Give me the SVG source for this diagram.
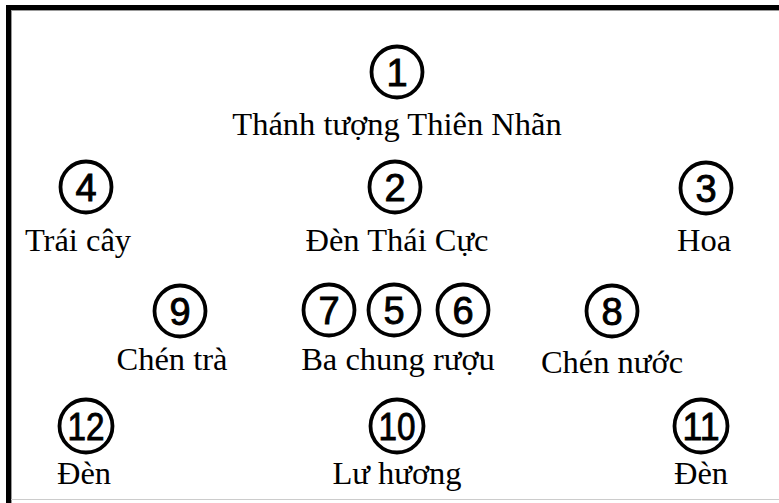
<svg xmlns="http://www.w3.org/2000/svg" width="779" height="503" viewBox="0 0 779 503">
<style>
.c{fill:none;stroke:#000;stroke-width:3.8}
.d{font-family:"Liberation Sans",Arial,sans-serif;font-size:38px;text-anchor:middle;fill:#000;stroke:#000;stroke-width:0.9}
.lbl{font-family:"Liberation Serif","Times New Roman",serif;font-size:32.5px;text-anchor:middle;fill:#000}
</style>
<rect x="0" y="0" width="779" height="503" fill="#fff"/>
<g id="frame">
<rect x="6" y="5" width="773" height="5" fill="#000"/>
<rect x="6" y="5" width="5" height="498" fill="#000"/>
<rect x="11" y="10" width="768" height="1" fill="#999"/>
<rect x="11" y="10" width="1" height="493" fill="#999"/>
<rect x="11" y="499" width="768" height="1" fill="#ccc"/>
</g>
<g id="n1"><circle class="c" cx="397" cy="72" r="25.5"/><text class="d" x="397" y="86">1</text><text class="lbl" x="397" y="135">Thánh tượng Thiên Nhãn</text></g>
<g id="n4"><circle class="c" cx="86" cy="187" r="25.5"/><text class="d" x="86" y="201">4</text><text class="lbl" x="78" y="251">Trái cây</text></g>
<g id="n2"><circle class="c" cx="395" cy="187" r="25.5"/><text class="d" x="395" y="201">2</text><text class="lbl" x="397" y="251">Đèn Thái Cực</text></g>
<g id="n3"><circle class="c" cx="706" cy="188" r="25.5"/><text class="d" x="706" y="202">3</text><text class="lbl" x="704" y="251">Hoa</text></g>
<g id="n9"><circle class="c" cx="180" cy="311" r="25.5"/><text class="d" x="180" y="325">9</text><text class="lbl" x="172" y="370">Chén trà</text></g>
<g id="n7"><circle class="c" cx="329" cy="310" r="25.5"/><text class="d" x="329" y="324">7</text></g>
<g id="n5"><circle class="c" cx="394" cy="310" r="25.5"/><text class="d" x="394" y="324">5</text></g>
<g id="n6"><circle class="c" cx="463" cy="310" r="25.5"/><text class="d" x="463" y="324">6</text></g>
<g id="n567"><text class="lbl" x="398" y="370">Ba chung rượu</text></g>
<g id="n8"><circle class="c" cx="612" cy="311" r="25.5"/><text class="d" x="612" y="325">8</text><text class="lbl" x="612" y="373">Chén nước</text></g>
<g id="n12"><circle class="c" cx="86" cy="426" r="26.5"/><text class="d" x="86" y="440" textLength="37" lengthAdjust="spacingAndGlyphs">12</text><text class="lbl" x="84" y="484">Đèn</text></g>
<g id="n10"><circle class="c" cx="397" cy="426" r="26.5"/><text class="d" x="397" y="440" textLength="37" lengthAdjust="spacingAndGlyphs">10</text><text class="lbl" x="397" y="484">Lư hương</text></g>
<g id="n11"><circle class="c" cx="701" cy="426" r="26.5"/><text class="d" x="701" y="440" textLength="37" lengthAdjust="spacingAndGlyphs">11</text><text class="lbl" x="701" y="484">Đèn</text></g>
<g id="connectors"></g>
</svg>
